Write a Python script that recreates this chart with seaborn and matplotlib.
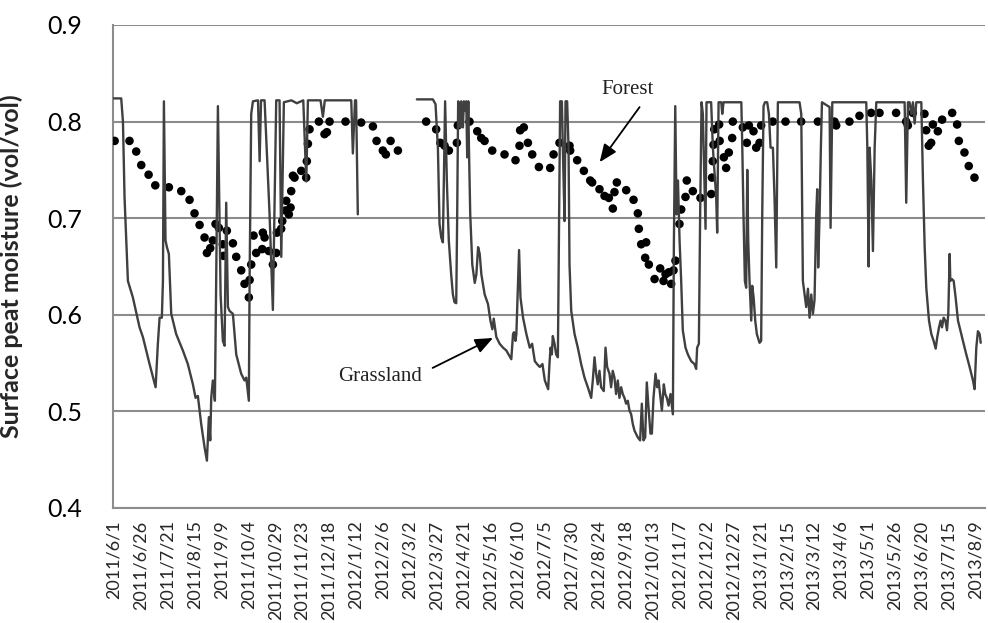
import numpy as np
import matplotlib
matplotlib.use("Agg")
import matplotlib.pyplot as plt
import pandas as pd
import seaborn as sns
from matplotlib.ticker import FixedLocator

# x = days since 2011/6/1
tick_labels = [
    "2011/6/1", "2011/6/26", "2011/7/21", "2011/8/15", "2011/9/9", "2011/10/4",
    "2011/10/29", "2011/11/23", "2011/12/18", "2012/1/12", "2012/2/6", "2012/3/2",
    "2012/3/27", "2012/4/21", "2012/5/16", "2012/6/10", "2012/7/5", "2012/7/30",
    "2012/8/24", "2012/9/18", "2012/10/13", "2012/11/7", "2012/12/2", "2012/12/27",
    "2013/1/21", "2013/2/15", "2013/3/12", "2013/4/6", "2013/5/1", "2013/5/26",
    "2013/6/20", "2013/7/15", "2013/8/9",
]

# grassland, first run (before logger gap)
grass_a = [
    (0, .824), (7.1, .824), (8.7, .800), (10.2, .721), (13.3, .635), (17.9, .618),
    (24.1, .587), (27.2, .577), (33.4, .549), (39.0, .525), (41.1, .570), (42.7, .597),
    (44.8, .597), (45.8, .635), (46.7, .821), (48.2, .677), (49.5, .670), (51.3, .663),
    (53.5, .601), (58.1, .580), (64.3, .563), (68.9, .549), (73.6, .528), (76.1, .514),
    (78.2, .516), (81.3, .487), (84.4, .463), (86.6, .449), (88.4, .494), (89.7, .470),
    (90.6, .514), (92.1, .532), (94.0, .511), (95.2, .635), (96.8, .816), (99.3, .621),
    (101.4, .573), (103.0, .568), (104.5, .716), (106.1, .608), (107.6, .604), (110.7, .601),
    (113.8, .559), (118.4, .539), (121.5, .532), (123.1, .535), (125.5, .511), (126.2, .635),
    (127.7, .808), (129.3, .821), (134.0, .822), (135.5, .759), (136.8, .822), (140.1, .822),
    (144.7, .705), (147.8, .605), (150.9, .822), (154.0, .822), (155.6, .660), (158.0, .820),
    (165.0, .822), (170.0, .819), (176.0, .822), (178.8, .738), (180.3, .822), (192.0, .822),
    (194.2, .805), (196.0, .822), (220.5, .822), (222.0, .767), (224.0, .822), (225.0, .822),
    (226.6, .704),
]

# grassland, second run
grass_b = [
    (281.4, .823), (296.2, .823), (298.7, .818), (300.9, .773), (302.4, .694), (304.0, .680),
    (305.5, .675), (306.4, .739), (307.6, .821), (309.2, .739), (311.0, .677), (313.2, .642),
    (314.8, .621), (316.3, .613), (317.9, .612), (318.8, .704), (319.7, .821), (321.0, .818),
    (321.9, .794), (322.5, .821), (324.1, .794), (325.0, .821), (326.3, .811), (327.2, .821),
    (328.1, .763), (329.1, .821), (329.7, .773), (330.9, .704), (332.8, .652), (335.1, .633),
    (336.6, .642), (338.2, .670), (339.7, .663), (341.2, .642), (344.3, .621), (347.4, .611),
    (349.6, .594), (351.4, .585), (352.7, .596), (355.1, .577), (358.2, .570), (361.3, .566),
    (364.4, .563), (369.0, .554), (370.6, .580), (371.5, .582), (372.8, .573), (373.7, .580),
    (375.3, .635), (376.2, .667), (377.5, .618), (379.9, .597), (383.0, .580), (386.1, .566),
    (388.3, .570), (390.8, .552), (392.9, .549), (395.4, .546), (397.9, .549), (400.1, .532),
    (403.2, .523), (404.4, .549), (405.4, .566), (406.6, .559), (407.5, .578), (409.1, .570),
    (410.6, .559), (412.2, .556), (413.1, .670), (414.3, .821), (415.9, .821), (416.8, .773),
    (418.4, .697), (419.3, .821), (420.8, .821), (422.1, .773), (423.0, .652), (424.6, .604),
    (427.7, .580), (430.7, .566), (433.8, .549), (436.9, .535), (440.0, .525), (443.1, .514),
    (444.6, .532), (446.2, .556), (447.7, .539), (449.2, .528), (450.8, .542), (452.3, .525),
    (454.8, .521), (456.4, .566), (457.9, .546), (460.1, .539), (461.6, .525), (463.1, .542),
    (464.7, .535), (466.2, .518), (467.8, .532), (469.3, .514), (470.9, .525), (472.4, .518),
    (474.0, .514), (475.5, .508), (477.1, .511), (478.6, .501), (480.2, .497), (481.7, .487),
    (483.3, .480), (486.4, .473), (488.5, .470), (490.1, .508), (491.6, .470), (493.2, .473),
    (494.7, .530), (496.3, .504), (498.1, .477), (499.4, .477), (500.9, .514), (502.8, .539),
    (504.3, .525), (505.6, .532), (507.4, .514), (508.7, .501), (510.5, .528), (511.8, .518),
    (513.3, .514), (514.9, .506), (516.7, .518), (518.9, .497), (519.8, .670), (521.1, .816),
    (522.3, .704), (523.6, .739), (525.1, .677), (526.6, .635), (528.1, .584), (530.6, .566),
    (532.8, .559), (535.9, .552), (538.9, .549), (540.5, .544), (541.4, .566), (543.0, .570),
    (544.2, .704), (545.5, .820), (546.7, .808), (548.2, .739), (549.2, .689), (550.1, .820),
    (554.4, .820), (556.0, .773), (559.1, .721), (560.0, .685), (561.3, .820), (563.8, .820),
    (564.7, .808), (565.9, .820), (582.4, .820), (583.3, .773), (584.4, .704), (585.7, .635),
    (586.9, .628), (587.9, .750), (588.8, .677), (590.0, .635), (591.6, .594), (592.5, .630),
    (593.8, .618), (595.3, .594), (596.8, .580), (599.3, .571), (600.8, .573), (601.8, .704),
    (603.0, .816), (604.3, .820), (606.4, .820), (608.0, .808), (609.5, .773), (611.7, .773),
    (613.2, .721), (614.8, .649), (616.3, .820), (636.4, .820), (638.0, .808), (639.5, .635),
    (642.6, .608), (644.2, .627), (645.7, .597), (647.3, .621), (648.8, .601), (650.3, .615),
    (651.9, .704), (652.8, .730), (653.7, .649), (655.0, .704), (656.2, .773), (657.2, .820),
    (664.3, .815), (665.2, .690), (666.8, .820), (698.3, .820), (699.3, .773), (700.5, .650),
    (701.4, .773), (703.0, .739), (704.5, .666), (706.1, .773), (707.6, .820), (733.9, .820),
    (735.4, .716), (737.0, .820), (738.5, .820), (740.1, .808), (741.6, .820), (743.2, .798),
    (744.7, .820), (749.4, .820), (750.9, .739), (752.5, .670), (754.0, .628), (756.5, .594),
    (758.7, .580), (760.8, .573), (762.7, .565), (764.2, .577), (765.8, .587), (767.3, .594),
    (768.6, .587), (770.1, .597), (771.7, .594), (773.2, .584), (774.4, .601), (775.7, .663),
    (776.3, .635), (777.8, .637), (779.4, .635), (781.2, .618), (783.4, .594), (784.9, .587),
    (788.0, .573), (791.1, .559), (794.2, .546), (797.3, .532), (798.8, .523), (800.4, .566),
    (801.9, .583), (803.5, .580), (804.5, .571),
]

forest = [
    (1, .780), (14.8, .780), (21.0, .769), (25.7, .755), (32.5, .745), (38.7, .734),
    (51.3, .732), (62.8, .728), (70.5, .719), (75.1, .705), (79.8, .693), (84.4, .680),
    (86.6, .664), (89.7, .669), (92.1, .677), (94.6, .694), (97.7, .690), (101.4, .673),
    (102.0, .661), (105.1, .687), (110.7, .674), (113.8, .660), (118.4, .646), (121.5, .632),
    (125.5, .618), (126.2, .636), (127.7, .652), (129.9, .682), (132.3, .664), (137.9, .668),
    (138.5, .685), (140.1, .680), (144.1, .666), (147.8, .652), (150.9, .664), (151.5, .685),
    (155.5, .689), (156.5, .697), (159.6, .708), (160.2, .718), (162.6, .704), (164.2, .711),
    (164.8, .728), (166.4, .744), (167.9, .742), (174.1, .749), (178.7, .742), (179.3, .759),
    (180.3, .777), (181.8, .792), (190.5, .800), (195.7, .787), (197.9, .789), (200.4, .800),
    (215.2, .800), (229.7, .799), (240.6, .795), (244.0, .780), (249.8, .770), (252.6, .766),
    (257.0, .780), (263.8, .770),
    (290.0, .800), (299.3, .792), (303.2, .778), (307.1, .775), (311.1, .770), (318.5, .778),
    (319.4, .796), (330.2, .800), (337.4, .790), (341.1, .783), (344.2, .780), (351.3, .770),
    (362.7, .766), (372.9, .760), (376.6, .775), (377.2, .791), (380.6, .794), (384.4, .778),
    (388.4, .766), (394.6, .753), (405.1, .752), (408.2, .766), (413.7, .778), (423.0, .775),
    (423.6, .770), (430.1, .760), (436.3, .749), (442.2, .739), (444.0, .737), (450.8, .730),
    (455.5, .723), (459.5, .721), (463.2, .710), (464.7, .727), (466.9, .737), (475.6, .729),
    (482.4, .719), (486.4, .705), (487.3, .689), (489.5, .673), (494.1, .675), (493.2, .659),
    (496.6, .652), (501.9, .637), (507.1, .648), (510.2, .635), (512.1, .642), (515.1, .644),
    (517.3, .632), (519.5, .646), (521.3, .656), (525.0, .694), (526.6, .709), (530.6, .722),
    (531.8, .739), (537.4, .728), (544.5, .721), (554.5, .725), (555.2, .742), (555.9, .759),
    (556.6, .776), (557.3, .792), (561.8, .797), (562.3, .780), (566.2, .763), (568.3, .752),
    (570.8, .768), (573.9, .783), (574.5, .800), (583.8, .794), (587.5, .778), (589.4, .796),
    (593.7, .790), (596.2, .773), (599.3, .778), (600.8, .796), (611.6, .800), (623.4, .800),
    (637.9, .800), (653.4, .800), (668.8, .800), (670.4, .796), (682.7, .800), (692.0, .806),
    (702.8, .809), (710.6, .809), (726.0, .809), (735.3, .800), (736.9, .796), (741.5, .809),
    (752.3, .808), (753.9, .791), (756.3, .775), (758.5, .778), (760.1, .797), (764.7, .790),
    (768.7, .802), (778.0, .809), (782.6, .797), (784.2, .780), (789.4, .768), (793.4, .754),
    (798.7, .742),
]

grass_df = pd.concat([
    pd.DataFrame(grass_a, columns=["day", "val"]).assign(seg=0),
    pd.DataFrame(grass_b, columns=["day", "val"]).assign(seg=1),
])
forest_df = pd.DataFrame(forest, columns=["day", "val"])

sns.set_style("white")
plt.rcParams["font.family"] = ["Lato", "DejaVu Sans"]
grid_col = "#8c8c8c"

fig = plt.figure(figsize=(9.88, 6.23), dpi=100)
ax = fig.add_axes([0.1144, 0.1846, 0.8826, 0.7753])

sns.scatterplot(data=forest_df, x="day", y="val", color="black", s=38,
                edgecolor="none", ax=ax, zorder=3)
sns.lineplot(data=grass_df, x="day", y="val", units="seg", estimator=None,
             sort=False, color="#404040", lw=1.7, ax=ax, zorder=4)

ax.set_xlim(-0.5, 808.5)
ax.set_ylim(0.4, 0.9)
ax.set_yticks([0.4, 0.5, 0.6, 0.7, 0.8, 0.9])
ax.set_yticklabels(["0.4", "0.5", "0.6", "0.7", "0.8", "0.9"])
ax.yaxis.grid(True, color=grid_col, lw=1.5)
ax.set_axisbelow(True)

ax.set_xticks(np.arange(len(tick_labels)) * 25)
ax.set_xticklabels(tick_labels, rotation=90)
ax.xaxis.set_minor_locator(FixedLocator(np.arange(9.5, 808, 10)))

ax.tick_params(axis="y", length=0, pad=22, labelsize=18, colors="black")
ax.tick_params(axis="x", which="major", length=0, pad=9, labelsize=13)
ax.tick_params(axis="x", which="minor", direction="in", length=5,
               width=1.2, color=grid_col)

for side in ["top", "right"]:
    ax.spines[side].set_visible(False)
for side in ["left", "bottom"]:
    ax.spines[side].set_color(grid_col)
    ax.spines[side].set_linewidth(1.5)

ax.set_xlabel("")
ax.set_ylabel("Surface peat moisture (vol/vol)", fontsize=18, fontweight="bold")
ax.yaxis.set_label_coords(-0.103, 0.5)

# annotations
serif = "Liberation Serif"
arrow = dict(arrowstyle="-|>,head_length=0.6,head_width=0.25", color="black",
             lw=1.3, mutation_scale=18, shrinkA=0, shrinkB=0)
ax.text(477, 0.833, "Forest", fontfamily=serif, fontsize=15, color="#222222",
        ha="center", va="center")
ax.annotate("", xy=(451, 0.758), xytext=(488, 0.815), arrowprops=arrow)
ax.text(247, 0.536, "Grassland", fontfamily=serif, fontsize=15, color="#222222",
        ha="center", va="center")
ax.annotate("", xy=(352, 0.576), xytext=(296, 0.545), arrowprops=arrow)

fig.savefig("out.png", dpi=100)
